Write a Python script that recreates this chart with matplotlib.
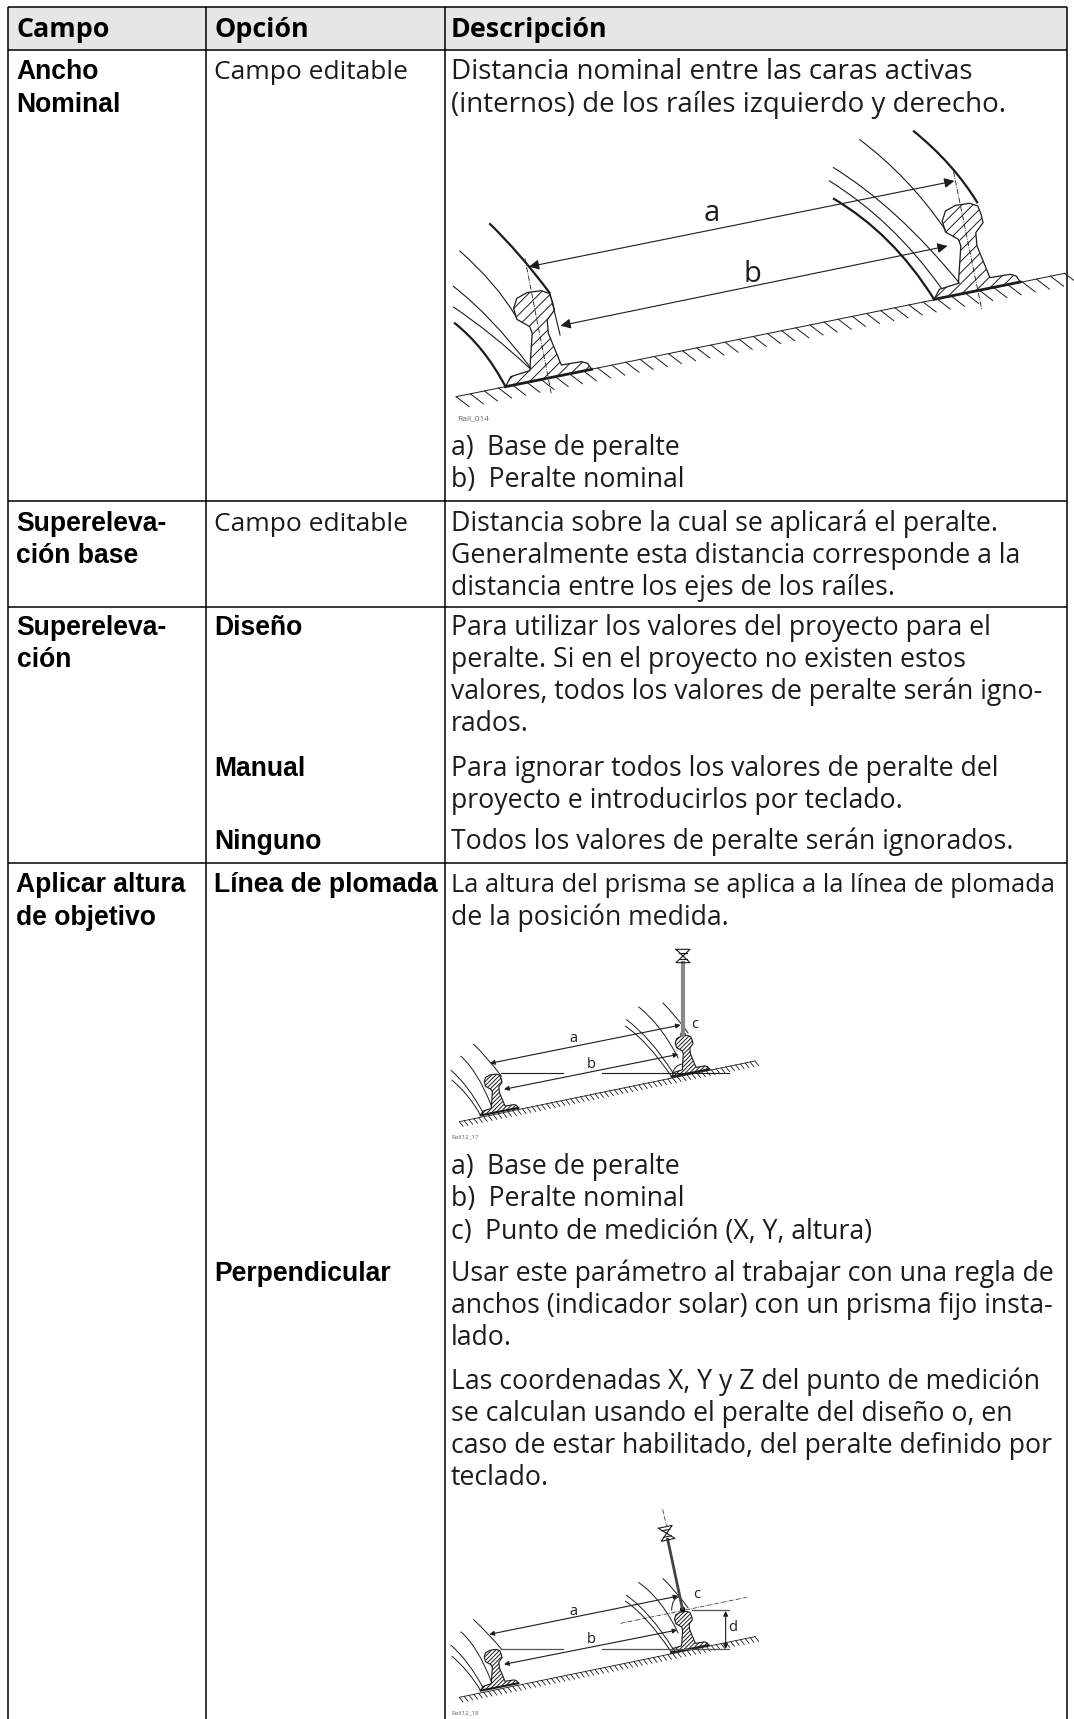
import numpy as np
import matplotlib
matplotlib.use('Agg')
import matplotlib.pyplot as plt
from matplotlib.patches import PathPatch, Polygon, Circle
from matplotlib.path import Path
from matplotlib.transforms import Affine2D

# table text
headers = ['Campo', 'Opción', 'Descripción']
field_labels = ['Ancho', 'Nominal', 'Supereleva-', 'ción base', 'Supereleva-', 'ción',
                'Aplicar altura', 'de objetivo']
field_y = [79, 112, 531, 563, 635, 667, 892.5, 925]
option_labels = ['Campo editable', 'Campo editable', 'Diseño', 'Manual', 'Ninguno',
                 'Línea de plomada', 'Perpendicular']
option_bold = [False, False, True, True, True, True, True]
option_y = [79, 531, 635, 776, 849, 892.5, 1281]
desc_lines = [
    'Distancia nominal entre las caras activas',
    '(internos) de los raíles izquierdo y derecho.',
    'a)\u2002Base de peralte',
    'b)\u2002Peralte nominal',
    'Distancia sobre la cual se aplicará el peralte.',
    'Generalmente esta distancia corresponde a la',
    'distancia entre los ejes de los raíles.',
    'Para utilizar los valores del proyecto para el',
    'peralte. Si en el proyecto no existen estos',
    'valores, todos los valores de peralte serán igno-',
    'rados.',
    'Para ignorar todos los valores de peralte del',
    'proyecto e introducirlos por teclado.',
    'Todos los valores de peralte serán ignorados.',
    'La altura del prisma se aplica a la línea de plomada',
    'de la posición medida.',
    'a)\u2002Base de peralte',
    'b)\u2002Peralte nominal',
    'c)\u2002Punto de medición (X, Y, altura)',
    'Usar este parámetro al trabajar con una regla de',
    'anchos (indicador solar) con un prisma fijo insta-',
    'lado.',
    'Las coordenadas X, Y y Z del punto de medición',
    'se calculan usando el peralte del diseño o, en',
    'caso de estar habilitado, del peralte definido por',
    'teclado.',
]
desc_y = [79, 112, 455, 487, 531, 563, 595, 635, 667, 699, 731, 776, 808, 849,
          892.5, 925, 1174, 1206.5, 1239, 1281, 1313, 1345, 1389, 1421, 1453, 1485]
desc_size = [20, 20, 19.2, 19.2, 19.2, 19.2, 19.2, 19.2, 19.2, 19.2, 19.2, 19.2, 19.2, 19.2,
             18.4, 19.2, 19.2, 19.2, 19.2, 19.2, 19.2, 19.2, 19.2, 19.2, 19.2, 19.2]

# table rules
col_x = [8, 206, 445, 1067]
row_y = [7, 50, 501.5, 607, 863]

# rail cross-section, first drawing
rail_x = [0, 13, 60, 66, 60, 28, 20, 28, 53, 88, 108, 116, 121, 103, 106, 138, 188, 203, 213]
rail_y = [0, -30, -48, -160, -180, -202, -235, -265, -282, -288, -280, -255, -230, -200,
          -160, -65, -75, -70, -52]

# first drawing
big_thick = [[(122, 310), (195, 395), (272, 520)],
             [(35, 608), (110, 680), (162, 800)],
             [(1170, 32), (1270, 130), (1330, 250)],
             [(972, 235), (1120, 340), (1222, 538)]]
big_thin = [[(48, 392), (140, 490), (188, 590)],
            [(32, 498), (130, 590), (225, 745)],
            [(32, 560), (130, 640), (222, 745)],
            [(1037, 58), (1160, 170), (1250, 330)],
            [(972, 142), (1130, 260), (1285, 490)],
            [(962, 182), (1120, 300), (1240, 505)]]

# small drawings
top_arcs = [[(100, 342), (145, 385), (185, 440)],
            [(62, 378), (115, 425), (155, 530)],
            [(32, 420), (85, 465), (130, 550)],
            [(35, 450), (85, 490), (122, 556)],
            [(668, 218), (710, 260), (745, 310)],
            [(595, 230), (665, 285), (715, 385)],
            [(558, 268), (630, 320), (700, 430)],
            [(555, 288), (620, 330), (695, 440)],
            [(697, 430), (705, 405), (727, 402)]]
low_arcs = [[(100, 358), (145, 400), (185, 448)],
            [(62, 395), (115, 440), (155, 548)],
            [(32, 435), (85, 480), (130, 565)],
            [(35, 468), (85, 510), (122, 572)],
            [(668, 235), (710, 275), (745, 325)],
            [(595, 247), (665, 295), (715, 400)],
            [(558, 285), (630, 335), (700, 448)],
            [(555, 303), (620, 345), (695, 458)],
            [(695, 332), (695, 295), (718, 290)]]

BODY = ['Open Sans', 'DejaVu Sans']
BOLD = 'Liberation Sans'
INK = '#1c1c1c'

plt.rcParams['hatch.linewidth'] = 0.7

fig = plt.figure(figsize=(10.74, 17.19), dpi=100)
ax = fig.add_axes([0, 0, 1, 1])
ax.set_xlim(0, 1074)
ax.set_ylim(1719, 0)
ax.axis('off')

# header band and rules
ax.fill_between(col_x[::3], row_y[0], row_y[1], color='#e6e6e6', lw=0, zorder=0)
ax.hlines(row_y, col_x[0], col_x[3], color='black', lw=1.1)
ax.vlines(col_x, row_y[0], 1719, color='black', lw=1.1)

for x, label in zip([17, 214, 451], headers):
    ax.text(x, 37, label, family=BODY, weight='bold', fontsize=19.4, color='black', va='baseline')
for label, y in zip(field_labels, field_y):
    ax.text(16.5, y, label, family=BOLD, weight='bold', fontsize=19.1, color='black', va='baseline')
for label, y, bold in zip(option_labels, option_y, option_bold):
    if bold:
        ax.text(214, y, label, family=BOLD, weight='bold', fontsize=19.1, color='black', va='baseline')
    else:
        ax.text(214, y, label, family=BODY, fontsize=19, color=INK, va='baseline')
for label, y, size in zip(desc_lines, desc_y, desc_size):
    ax.text(451, y, label, family=BODY, fontsize=size, color=INK, va='baseline')


def curve(pts, tr, lw):
    path = Path(pts, [Path.MOVETO, Path.CURVE3, Path.CURVE3])
    ax.add_patch(PathPatch(path, fill=False, ec=INK, lw=lw, transform=tr))


def ground(p0, p1, n, dx, dy, tr, lw):
    ax.plot([p0[0], p1[0]], [p0[1], p1[1]], color=INK, lw=lw, transform=tr)
    for t in np.linspace(0, 1, n):
        x = p0[0] + t * (p1[0] - p0[0])
        y = p0[1] + t * (p1[1] - p0[1])
        ax.plot([x, x + dx], [y, y + dy], color=INK, lw=lw, transform=tr)


def rail(ox, oy, sx, sy, tr, hatch, lw, base_lw):
    pts = np.column_stack([ox + np.array(rail_x) * sx, oy + np.array(rail_y) * sy])
    ax.add_patch(Polygon(pts, closed=True, fill=False, hatch=hatch, ec=INK, lw=lw, transform=tr))
    ax.plot([pts[0, 0], pts[-1, 0]], [pts[0, 1], pts[-1, 1]], color=INK, lw=base_lw, transform=tr)


def arrow(p0, p1, tr, size):
    ax.annotate('', xy=p1, xytext=p0, xycoords=tr, textcoords=tr,
                arrowprops=dict(arrowstyle='<|-|>', color=INK, lw=0.8, shrinkA=0, shrinkB=0,
                                mutation_scale=size))


def prism(cx, cy, angle, tr):
    rot = Affine2D().rotate_deg_around(cx, cy, angle) + tr
    ax.plot([cx - 21, cx + 21, cx - 21, cx + 21, cx - 21], [cy - 20, cy - 20, cy + 20, cy + 20, cy - 20],
            color=INK, lw=0.8, transform=rot)
    ax.plot([cx - 12, cx + 12], [cy - 10, cy - 10], color=INK, lw=0.8, transform=rot)
    ax.plot([cx - 12, cx + 12], [cy + 10, cy + 10], color=INK, lw=0.8, transform=rot)


# first drawing
big = Affine2D().scale(1 / 2.473, 1 / 3).translate(440, 120) + ax.transData
ground((40, 830), (1545, 460), 44, 32, 30, big, 0.7)
for pts in big_thick:
    curve(pts, big, 1.6)
for pts in big_thin:
    curve(pts, big, 0.8)
rail(162, 800, 1, 1, big, '///', 0.9, 2.0)
rail(1222, 538, 1, 1, big, '///', 0.9, 2.0)
ax.plot([272, 297], [520, 645], color=INK, lw=0.8, transform=big)
ax.plot([210, 275], [415, 820], color=INK, lw=0.6, ls='-.', transform=big)
ax.plot([1270, 1340], [155, 570], color=INK, lw=0.6, ls='-.', transform=big)
arrow((220, 440), (1272, 183), big, 15)
arrow((298, 617), (1255, 378), big, 15)
ax.text(672, 280, 'a', family=BODY, fontsize=21, color=INK, ha='center', va='center', transform=big)
ax.text(772, 462, 'b', family=BODY, fontsize=21, color=INK, ha='center', va='center', transform=big)
ax.text(42, 895, 'Rail_014', family=BODY, fontsize=6, color='#666666', va='center', transform=big)

# second drawing
mid = Affine2D().scale(1 / 3).translate(440, 930) + ax.transData
ground((58, 575), (945, 393), 62, 11, 14, mid, 0.6)
for pts in top_arcs:
    curve(pts, mid, 0.7)
rail(122, 556, 0.53, 0.43, mid, '////////', 0.8, 1.5)
rail(695, 440, 0.53, 0.43, mid, '////////', 0.8, 1.5)
ax.plot([182, 370], [430, 430], color=INK, lw=0.8, transform=mid)
ax.plot([487, 868], [430, 430], color=INK, lw=0.8, transform=mid)
arrow((150, 400), (722, 285), mid, 7)
arrow((192, 478), (715, 373), mid, 7)
ax.plot([729, 729], [100, 315], color='#888888', lw=3, transform=mid)
prism(729, 78, 0, mid)
ax.add_patch(Circle((729, 313), 6, color='black', transform=mid))
ax.text(400, 327, 'a', family=BODY, fontsize=10.5, color=INK, ha='center', va='center', transform=mid)
ax.text(455, 403, 'b', family=BODY, fontsize=10.5, color=INK, ha='center', va='center', transform=mid)
ax.text(765, 285, 'c', family=BODY, fontsize=10.5, color=INK, ha='center', va='center', transform=mid)
ax.text(35, 620, 'Rail12_17', family=BODY, fontsize=4.5, color='#666666', va='center', transform=mid)

# third drawing
low = Affine2D().scale(1 / 3).translate(440, 1500) + ax.transData
ground((58, 592), (945, 410), 62, 11, 14, low, 0.6)
for pts in low_arcs:
    curve(pts, low, 0.7)
rail(122, 572, 0.53, 0.43, low, '////////', 0.8, 1.5)
rail(693, 458, 0.53, 0.43, low, '////////', 0.8, 1.5)
ax.plot([182, 368], [447, 447], color='#555555', lw=0.9, transform=low)
ax.plot([487, 868], [447, 447], color='#555555', lw=0.9, transform=low)
ax.plot([755, 868], [330, 330], color='#555555', lw=0.9, transform=low)
ax.plot([542, 920], [370, 292], color=INK, lw=0.5, ls='-.', transform=low)
ax.plot([668, 680], [28, 80], color=INK, lw=0.5, ls='-.', transform=low)
arrow((148, 403), (715, 288), low, 7)
arrow((192, 493), (712, 390), low, 7)
arrow((857, 333), (857, 447), low, 7)
ax.plot([683, 727], [118, 325], color='#444444', lw=2, transform=low)
prism(680, 100, -12, low)
ax.add_patch(Circle((728, 328), 6, color='black', transform=low))
ax.text(400, 334, 'a', family=BODY, fontsize=10.5, color=INK, ha='center', va='center', transform=low)
ax.text(455, 419, 'b', family=BODY, fontsize=10.5, color=INK, ha='center', va='center', transform=low)
ax.text(770, 285, 'c', family=BODY, fontsize=10.5, color=INK, ha='center', va='center', transform=low)
ax.text(878, 382, 'd', family=BODY, fontsize=10.5, color=INK, ha='center', va='center', transform=low)
ax.text(35, 640, 'Rail12_18', family=BODY, fontsize=4.5, color='#666666', va='center', transform=low)

fig.savefig('out.png', dpi=100)
